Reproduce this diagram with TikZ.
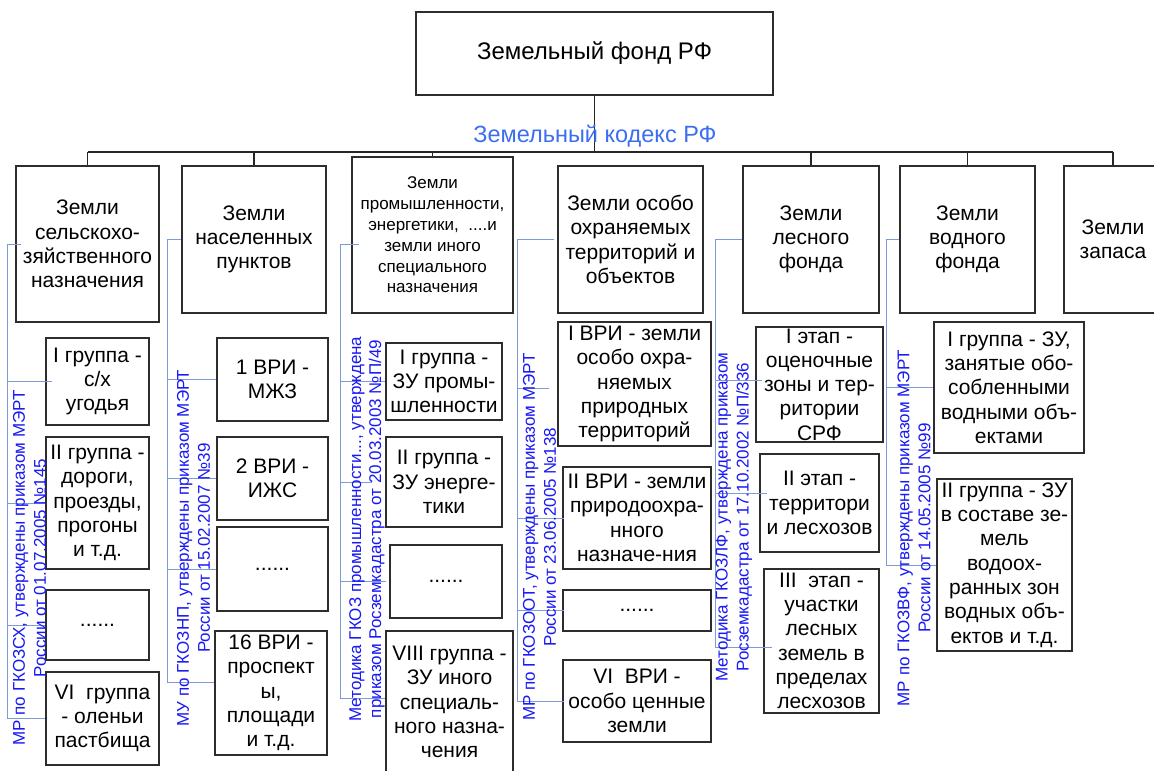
\documentclass[tikz,border=0pt]{standalone}
\usepackage{fontspec}
\setmainfont{Liberation Sans}
\definecolor{framegray}{RGB}{45,45,45}
\definecolor{bracketblue}{RGB}{125,155,215}
\definecolor{noteblue}{RGB}{25,25,245}
\definecolor{codeblue}{RGB}{60,110,240}

% a framed cell given by its corners (x1,y1)-(x2,y2) plus its centred text
\newcommand\cellbox[7][]{%
  \node[box,minimum width={#5-#3},minimum height={#6-#4}] (#2) at ({(#3+#5)/2},{(#4+#6)/2}) {};
  \node[boxtext,#1] (#2-t) at (#2.center) {#7};}

\begin{document}
\begin{tikzpicture}[x=1pt,y=-1pt,
  box/.style={draw=framegray,line width=1.1pt,inner sep=0pt},
  boxtext/.style={align=center,inner sep=0pt,font=\fontsize{21}{24.3}\selectfont},
  smalltext/.style={font=\fontsize{17}{20.8}\selectfont},
  note/.style={text=noteblue,align=center,inner sep=0pt,rotate=90,font=\fontsize{17}{21}\selectfont},
  tree/.style={draw=black!85,line width=1.3pt},
  bracket/.style={draw=bracketblue,line width=0.9pt}]
\useasboundingbox (0,0) rectangle (1154,771);
\fill[white] (0,0) rectangle (1154,771);

% root
\cellbox[font=\fontsize{24}{27}\selectfont]{fund}{416}{12}{773}{95}{Земельный фонд РФ}

% categories of land
\cellbox{m1}{16}{166}{159}{322}{Земли\\сельскохо-\\зяйственного\\назначения}
\cellbox{m2}{182}{166}{326}{313}{Земли\\населенных\\пунктов}
\cellbox[smalltext]{m3}{352}{157}{513}{313}{Земли\\промышленности,\\энергетики, \ ....и\\земли иного\\специального\\назначения}
\cellbox{m4}{558}{166}{703}{313}{Земли особо\\охраняемых\\территорий и\\объектов}
\cellbox{m5}{743}{166}{879}{313}{Земли\\лесного\\фонда}
\cellbox{m6}{900}{166}{1035}{313}{Земли\\водного\\фонда}
\cellbox{m7}{1064}{166}{1162}{313}{Земли\\запаса}

% groups of column 1
\cellbox{g11}{46}{338}{149}{425}{I группа -\\с/х\\угодья}
\cellbox{g12}{46}{437}{149}{569}{II группа -\\дороги,\\проезды,\\прогоны\\и т.д.}
\cellbox{g13}{46}{590}{149}{660}{......}
\cellbox{g14}{46}{672}{159}{765}{VI\ \ группа\\- оленьи\\пастбища}

% column 2
\cellbox{g21}{217}{338}{328}{421}{1 ВРИ -\\МЖЗ}
\cellbox{g22}{217}{437}{328}{520}{2 ВРИ -\\ИЖС}
\cellbox{g23}{217}{527}{328}{611}{......}
\cellbox{g24}{215}{631}{327}{755}{16 ВРИ -\\проспект\\ы,\\площади\\и т.д.}

% column 3
\cellbox{g31}{386}{343}{502}{420}{I группа -\\ЗУ промы-\\шленности}
\cellbox{g32}{386}{437}{502}{527}{II группа -\\ЗУ энерге-\\тики}
\cellbox{g33}{390}{545}{502}{618}{......}
\cellbox{g34}{386}{631}{513}{773}{VIII группа -\\ЗУ иного\\специаль-\\ного назна-\\чения}

% column 4
\cellbox{g41}{558}{322}{711}{446}{I ВРИ - земли\\особо охра-\\няемых\\природных\\территорий}
\cellbox{g42}{563}{467}{711}{569}{II ВРИ - земли\\природоохра-\\нного\\назначе-ния}
\cellbox{g43}{563}{590}{711}{631}{......}
\cellbox{g44}{563}{660}{711}{742}{VI\ \ ВРИ -\\особо ценные\\земли}

% column 5
\cellbox{g51}{756}{327}{883}{442}{I этап -\\оценочные\\зоны и тер-\\ритории\\СРФ}
\cellbox{g52}{760}{454}{879}{552}{II этап -\\территори\\и лесхозов}
\cellbox{g53}{764}{569}{879}{713}{III\ \ этап -\\участки\\лесных\\земель в\\пределах\\лесхозов}

% column 6
\cellbox{g61}{934}{322}{1084}{453}{I группа - ЗУ,\\занятые обо-\\собленными\\водными объ-\\ектами}
\cellbox{g62}{937}{479}{1072}{651}{II группа - ЗУ\\в составе зе-\\мель\\водоох-\\ранных зон\\водных объ-\\ектов и т.д.}

% tree from the root to the categories
\coordinate (busy) at (0,152);
\draw[tree] (fund.south) -- (fund.south |- busy);
\draw[tree] (m1.north |- busy) -- (m7.north |- busy);
\foreach \m in {m1,m2,m3,m5,m6,m7} \draw[tree] (\m.north |- busy) -- (\m.north);
\node[text=codeblue,font=\fontsize{23.5}{26}\selectfont,inner sep=0pt,anchor=base] (code) at (595,142) {Земельный кодекс РФ};

% spines of the blue brackets
\coordinate (s1) at (7,0);
\coordinate (s2) at (167,0);
\coordinate (s3) at (340,0);
\coordinate (s4) at (517,0);
\coordinate (s5) at (715,0);
\coordinate (s6) at (886,0);

% tick ends
\coordinate (k10) at ([xshift=6pt]m1.west);
\coordinate (k11) at ([xshift=7pt]g11.west);
\coordinate (k12) at (g12.west);
\coordinate (k13) at (g13.west);
\coordinate (k14) at (g14.west);
\coordinate (k20) at (m2.west);
\coordinate (k21) at (g21.west);
\coordinate (k22) at (g22.west);
\coordinate (k23) at (g23.west);
\coordinate (k24) at ([yshift=11pt]g24.west);
\coordinate (k30) at ([xshift=8pt,yshift=-9pt]m3.west);
\coordinate (k31) at (g31.west);
\coordinate (k32) at ([xshift=-13pt]g32.west);
\coordinate (k33) at ([xshift=-3pt]g33.west);
\coordinate (k34) at ([yshift=4pt]g34.west);
\coordinate (k40) at ([xshift=-3pt]m4.west);
\coordinate (k41) at ([xshift=-8pt,yshift=-4pt]g41.west);
\coordinate (k42) at ([xshift=2pt]g42.west);
\coordinate (k43) at ([xshift=2pt]g43.west);
\coordinate (k44) at ([xshift=2pt]g44.west);
\coordinate (k50) at (m5.west);
\coordinate (k51) at ([xshift=7pt,yshift=4.5pt]g51.west);
\coordinate (k52) at ([xshift=8pt,yshift=10pt]g52.west);
\coordinate (k53) at ([xshift=9pt,yshift=-6pt]g53.west);
\coordinate (k60) at (m6.west);
\coordinate (k61) at (g61.west);
\coordinate (k62) at (g62.west);

\draw[bracket] (k10) -- (s1 |- k10) -- (s1 |- k14) -- (k14);
\foreach \k in {k11,k12,k13} \draw[bracket] (s1 |- \k) -- (\k);
\draw[bracket] (k20) -- (s2 |- k20) -- (s2 |- k24) -- (k24);
\foreach \k in {k21,k22,k23} \draw[bracket] (s2 |- \k) -- (\k);
\draw[bracket] (k30) -- (s3 |- k30) -- (s3 |- k34) -- (k34);
\foreach \k in {k31,k32,k33} \draw[bracket] (s3 |- \k) -- (\k);
\draw[bracket] (k40) -- (s4 |- k40) -- (s4 |- k44) -- (k44);
\foreach \k in {k41,k42,k43} \draw[bracket] (s4 |- \k) -- (\k);
\draw[bracket] (k50) -- (s5 |- k50) -- (s5 |- k53) -- (k53);
\foreach \k in {k51,k52} \draw[bracket] (s5 |- \k) -- (\k);
\draw[bracket] (k60) -- (s6 |- k60) -- (s6 |- k62) -- (k62);
\draw[bracket] (s6 |- k61) -- (k61);

% normative documents along the brackets
\node[note] (n1) at (29.5,568) {МР по ГКОЗСХ, утверждены приказом МЭРТ\\России от 01.07.2005 №145};
\node[note] (n2) at (193.5,548) {МУ по ГКОЗНП, утверждены приказом МЭРТ\\России от 15.02.2007 №39};
\node[note,font=\fontsize{17}{20}\selectfont] (n3) at (367,529) {Методика ГКОЗ промышленности..., утверждена\\приказом Росземкадастра от 20.03.2003 №П/49};
\node[note] (n4) at (539.5,537) {МР по ГКОЗООТ, утверждены приказом МЭРТ\\России от 23.06.2005 №138};
\node[note] (n5) at (734,517) {Методика ГКОЗЛФ, утверждена приказом\\Росземкадастра от 17.10.2002 №П/336};
\node[note] (n6) at (914,528) {МР по ГКОЗВФ, утверждены приказом МЭРТ\\России от 14.05.2005 №99};
\end{tikzpicture}
\end{document}
